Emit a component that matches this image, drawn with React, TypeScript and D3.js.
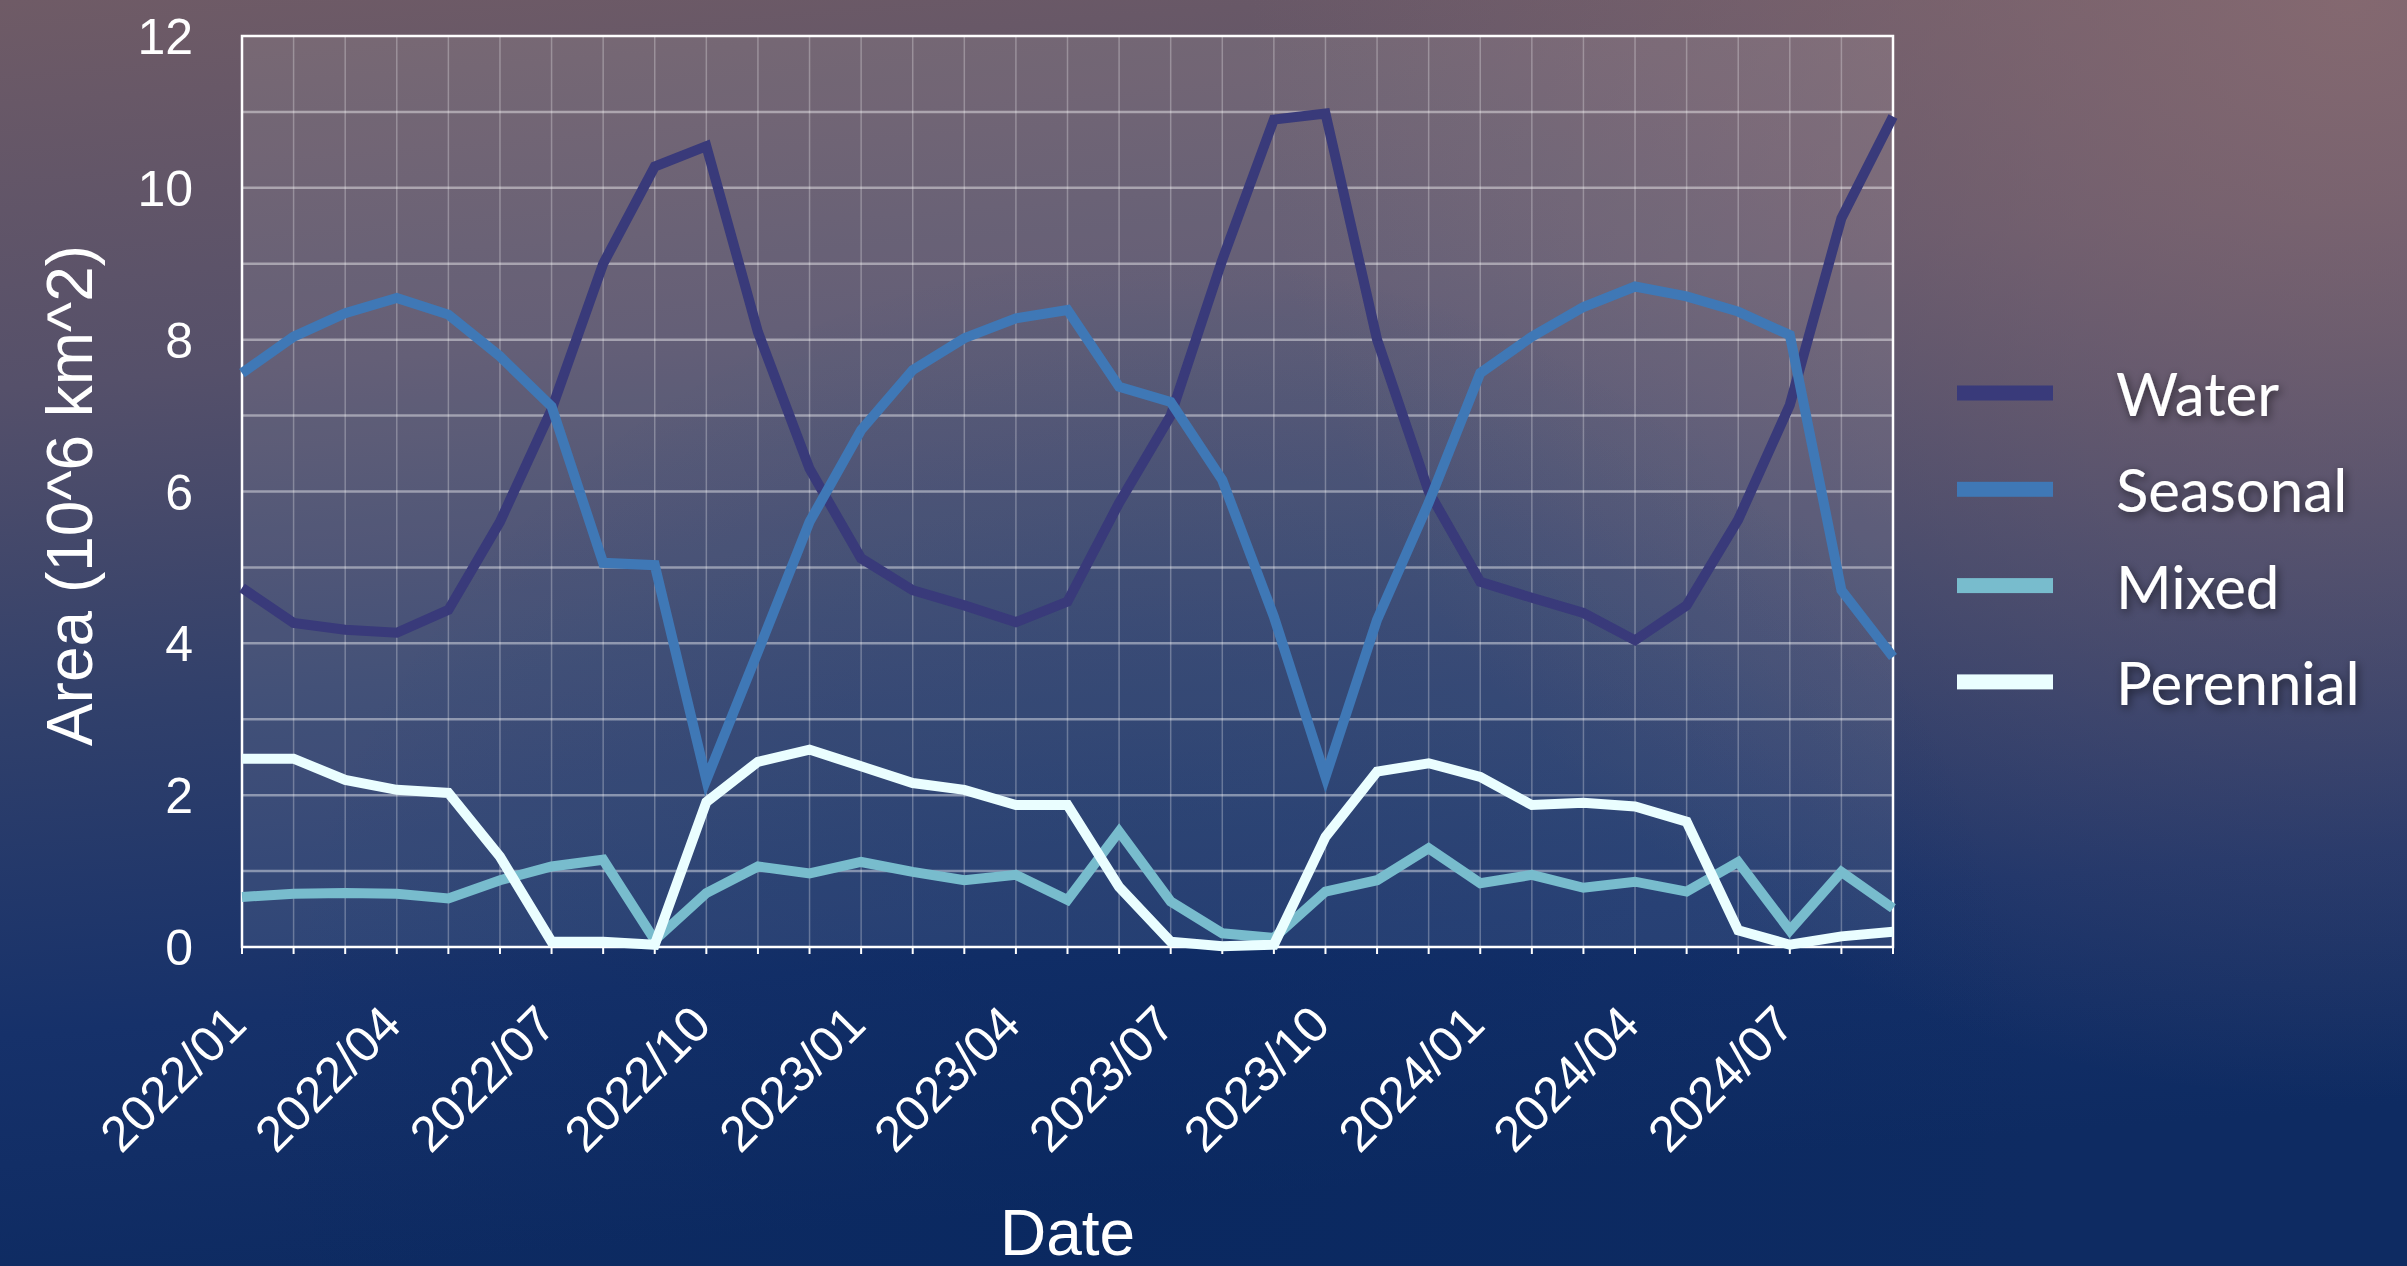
import React from "react";
import * as d3 from "d3";

// month categories 2022/01 .. 2024/09
const months = [
  "2022/01", "2022/02", "2022/03", "2022/04", "2022/05", "2022/06", "2022/07", "2022/08", "2022/09", "2022/10", "2022/11", "2022/12",
  "2023/01", "2023/02", "2023/03", "2023/04", "2023/05", "2023/06", "2023/07", "2023/08", "2023/09", "2023/10", "2023/11", "2023/12",
  "2024/01", "2024/02", "2024/03", "2024/04", "2024/05", "2024/06", "2024/07", "2024/08", "2024/09",
];

const tickLabels = ["2022/01", "2022/04", "2022/07", "2022/10", "2023/01", "2023/04", "2023/07", "2023/10", "2024/01", "2024/04", "2024/07"];
const yTicks = [0, 2, 4, 6, 8, 10, 12];
const yGrid = [1, 2, 3, 4, 5, 6, 7, 8, 9, 10, 11];

const water = [
  4.73, 4.27, 4.18, 4.14, 4.44, 5.6, 7.08, 9.0, 10.28, 10.55, 8.1, 6.3,
  5.12, 4.7, 4.5, 4.28, 4.55, 5.85, 7.0, 9.05, 10.9, 10.98, 8.0, 6.0,
  4.81, 4.6, 4.4, 4.04, 4.5, 5.63, 7.14, 9.6, 10.94,
];
const seasonal = [
  7.56, 8.04, 8.35, 8.55, 8.33, 7.78, 7.12, 5.06, 5.03, 2.2, 3.89, 5.6,
  6.81, 7.6, 8.02, 8.28, 8.39, 7.38, 7.18, 6.15, 4.35, 2.24, 4.31, 5.85,
  7.56, 8.04, 8.43, 8.7, 8.57, 8.37, 8.06, 4.7, 3.82,
];
const mixed = [
  0.66, 0.7, 0.71, 0.7, 0.64, 0.88, 1.06, 1.15, 0.09, 0.71, 1.06, 0.97,
  1.12, 0.99, 0.88, 0.95, 0.62, 1.52, 0.6, 0.18, 0.12, 0.73, 0.88, 1.3,
  0.84, 0.95, 0.78, 0.86, 0.73, 1.12, 0.22, 0.99, 0.51,
];
const perennial = [
  2.48, 2.48, 2.2, 2.07, 2.03, 1.19, 0.07, 0.07, 0.03, 1.91, 2.44, 2.6,
  2.38, 2.16, 2.07, 1.87, 1.87, 0.79, 0.07, 0.01, 0.03, 1.45, 2.31, 2.42,
  2.24, 1.87, 1.9, 1.85, 1.65, 0.22, 0.03, 0.14, 0.2,
];

const seriesNames = ["Water", "Seasonal", "Mixed", "Perennial"];
const seriesValues = [water, seasonal, mixed, perennial];
const seriesColors = ["#393a7a", "#3f78b6", "#78bccd", "#eafeff"];

const W = 2407;
const H = 1266;
const left = 242, right = 1893, top = 36, bottom = 947;
const axisFont = "'Liberation Sans', Arial, Helvetica, sans-serif";
const legendFont = "Lato, 'Open Sans', sans-serif";

export default function App() {
  const x = d3.scalePoint<string>().domain(months).range([left, right]);
  const y = d3.scaleLinear().domain([0, 12]).range([bottom, top]);

  const line = d3.line<number>()
    .x((_, i) => x(months[i]) as number)
    .y((d) => y(d));

  return (
    <div style={{ position: "absolute", left: 0, top: 0 }}>
      <svg width={W} height={H} style={{ display: "block" }}>
        <defs>
          <linearGradient id="bg" x1="0" y1="0" x2="0.15" y2="1">
            <stop offset="0" stopColor="#6f5b66" />
            <stop offset="0.3" stopColor="#55506a" />
            <stop offset="0.55" stopColor="#31406b" />
            <stop offset="0.8" stopColor="#16316a" />
            <stop offset="1" stopColor="#0e2b62" />
          </linearGradient>
          <radialGradient id="glow" cx="2350" cy="0" r="1100" gradientUnits="userSpaceOnUse">
            <stop offset="0" stopColor="#8c6d72" stopOpacity="0.8" />
            <stop offset="1" stopColor="#8c6d72" stopOpacity="0" />
          </radialGradient>
          <radialGradient id="deep" cx="1150" cy="1150" r="900" gradientUnits="userSpaceOnUse">
            <stop offset="0" stopColor="#06265f" stopOpacity="0.5" />
            <stop offset="1" stopColor="#06265f" stopOpacity="0" />
          </radialGradient>
          <filter id="shadow" x="-20%" y="-40%" width="140%" height="180%">
            <feDropShadow dx="2" dy="3" stdDeviation="5" floodColor="#000" floodOpacity="0.55" />
          </filter>
        </defs>

        <rect width={W} height={H} fill="url(#bg)" />
        <rect width={W} height={H} fill="url(#glow)" />
        <rect width={W} height={H} fill="url(#deep)" />

        {/* plot area */}
        <rect x={left} y={top} width={right - left} height={bottom - top} fill="rgba(255,255,255,0.09)" />

        {/* vertical grid */}
        {months.map((m) => (
          <line key={"v" + m} x1={x(m)} x2={x(m)} y1={top} y2={bottom}
            stroke="rgba(255,255,255,0.28)" strokeWidth={1.5} />
        ))}
        {/* horizontal grid */}
        {yGrid.map((v) => (
          <line key={"h" + v} x1={left} x2={right} y1={y(v)} y2={y(v)}
            stroke="rgba(255,255,255,0.42)" strokeWidth={2.5} />
        ))}

        {/* frame */}
        <rect x={left} y={top} width={right - left} height={bottom - top}
          fill="none" stroke="#ffffff" strokeWidth={2.5} />

        {/* bottom ticks */}
        {months.map((m) => (
          <line key={"t" + m} x1={x(m)} x2={x(m)} y1={bottom} y2={bottom + 7}
            stroke="#ffffff" strokeWidth={2} />
        ))}

        {/* series lines */}
        {seriesValues.map((vals, i) => (
          <path key={seriesNames[i]} d={line(vals) || ""} fill="none"
            stroke={seriesColors[i]} strokeWidth={10} strokeLinejoin="miter" strokeMiterlimit={4} />
        ))}

        {/* y tick labels */}
        {yTicks.map((v) => (
          <text key={"yl" + v} x={193} y={y(v) + 18} textAnchor="end" fill="#ffffff"
            fontFamily={axisFont} fontSize={50}>{v}</text>
        ))}

        {/* x tick labels */}
        {tickLabels.map((m) => {
          const tx = (x(m) as number) + 7;
          const ty = bottom + 80;
          return (
            <text key={"xl" + m} transform={`translate(${tx},${ty}) rotate(-45)`} textAnchor="end"
              fill="#ffffff" fontFamily={axisFont} fontSize={50}>{m}</text>
          );
        })}

        {/* axis titles */}
        <text transform={`translate(92,${(top + bottom) / 2 + 4}) rotate(-90)`} textAnchor="middle"
          fill="#ffffff" fontFamily={axisFont} fontSize={64}>Area (10^6 km^2)</text>
        <text x={(left + right) / 2} y={1255} textAnchor="middle"
          fill="#ffffff" fontFamily={axisFont} fontSize={64}>Date</text>

        {/* legend */}
        {seriesNames.map((name, i) => {
          const cy = 393 + i * 96.3;
          return (
            <g key={"lg" + name}>
              <rect x={1957} y={cy - 7.5} width={96} height={15} fill={seriesColors[i]} />
              <text x={2116} y={cy + 23} fill="#ffffff" fontFamily={legendFont} fontSize={60}
                filter="url(#shadow)">{name}</text>
            </g>
          );
        })}
      </svg>
    </div>
  );
}
